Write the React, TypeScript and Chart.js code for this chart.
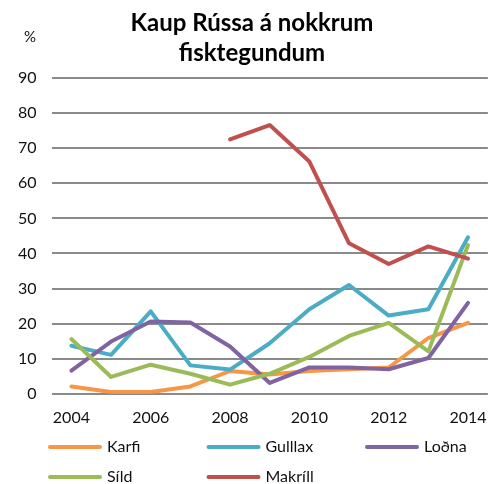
import React, { useEffect, useRef } from "react";
import { Chart, registerables } from "chart.js";

Chart.register(...registerables);

const years = ["2004", "2005", "2006", "2007", "2008", "2009", "2010", "2011", "2012", "2013", "2014"];
const karfi = [2.1, 0.5, 0.5, 2.1, 6.5, 5.5, 6.5, 7.0, 7.5, 15.9, 20.2];
const gulllax = [13.7, 11.1, 23.5, 8.1, 6.9, 14.4, 24.1, 31.0, 22.3, 24.1, 44.6];
const lodna = [6.6, 14.9, 20.6, 20.3, 13.5, 3.1, 7.5, 7.5, 7.0, 10.2, 25.9];
const sild = [15.6, 4.8, 8.3, 5.7, 2.6, 5.7, 10.5, 16.5, 20.2, 12.1, 42.4];
const makrill = [null, null, null, null, 72.5, 76.6, 66.2, 42.9, 37.0, 42.0, 38.5];

const seriesNames = ["Karfi", "Gulllax", "Loðna", "Síld", "Makríll"];
const seriesColors = ["#F79646", "#4BACC6", "#8064A2", "#9BBB59", "#C0504D"];
const titleLines = ["Kaup Rússa á nokkrum", "fisktegundum"];
const unitLabel = "%";

const FONT = "Lato, 'Noto Sans', sans-serif";

const extrasPlugin = {
  id: "extras",
  afterDraw(chart: any) {
    const ctx = chart.ctx;
    ctx.save();
    // title
    ctx.fillStyle = "#000";
    ctx.font = `bold 24px ${FONT}`;
    ctx.textAlign = "center";
    ctx.textBaseline = "middle";
    titleLines.forEach((t, i) => ctx.fillText(t, 252, 23 + i * 30));
    // unit label
    ctx.fillStyle = "#111";
    ctx.font = `15px ${FONT}`;
    ctx.fillText(unitLabel, 30, 37);
    // legend grid
    const ds = chart.data.datasets;
    ds.forEach((d: any, i: number) => {
      const col = i % 3;
      const row = Math.floor(i / 3);
      const x = 48 + col * 158.5;
      const y = 447 + row * 30;
      ctx.strokeStyle = d.borderColor;
      ctx.lineWidth = 4;
      ctx.lineCap = "round";
      ctx.beginPath();
      ctx.moveTo(x + 2, y);
      ctx.lineTo(x + 52, y);
      ctx.stroke();
      ctx.fillStyle = "#111";
      ctx.font = `16px ${FONT}`;
      ctx.textAlign = "left";
      ctx.textBaseline = "middle";
      ctx.fillText(d.label, x + 59, y);
    });
    ctx.restore();
  },
};

export default function App() {
  const ref = useRef<HTMLCanvasElement>(null);
  useEffect(() => {
    document.body.style.margin = "0";
    const values = [karfi, gulllax, lodna, sild, makrill];
    const chart = new Chart(ref.current as HTMLCanvasElement, {
      type: "line",
      data: {
        labels: years,
        datasets: values.map((v, i) => ({
          label: seriesNames[i],
          data: v,
          borderColor: seriesColors[i],
          backgroundColor: seriesColors[i],
          borderWidth: 4,
          pointRadius: 0,
          tension: 0,
          borderCapStyle: "round",
          borderJoinStyle: "round",
          spanGaps: false,
          order: values.length - i,
        })),
      },
      options: {
        animation: false,
        responsive: false,
        layout: { padding: { left: 3, right: 9, top: 78, bottom: 43 } },
        plugins: {
          legend: { display: false },
          tooltip: { enabled: false },
          title: { display: false },
        },
        scales: {
          x: {
            offset: true,
            grid: { display: false, drawTicks: false },
            border: { display: false },
            ticks: {
              autoSkip: false,
              maxRotation: 0,
              color: "#111",
              font: { family: FONT, size: 16 },
              padding: 14,
              callback: (_v: any, i: number) => (i % 2 === 0 ? years[i] : ""),
            },
          },
          y: {
            min: 0,
            max: 90,
            grid: { color: "#8a8a8a", lineWidth: 2, drawTicks: false },
            border: { display: false },
            ticks: {
              stepSize: 10,
              color: "#111",
              font: { family: FONT, size: 16 },
              padding: 15,
            },
          },
        },
      },
      plugins: [extrasPlugin],
    } as any);
    return () => chart.destroy();
  }, []);
  return <canvas ref={ref} width={501} height={484} style={{ display: "block" }} />;
}
